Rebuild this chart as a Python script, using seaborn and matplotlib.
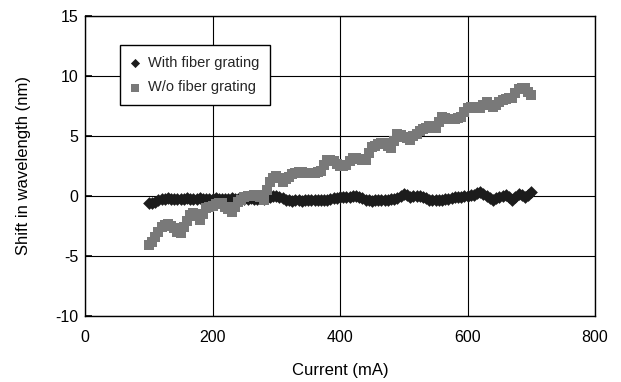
import numpy as np
import pandas as pd
import matplotlib
matplotlib.use("Agg")
import matplotlib.pyplot as plt
import seaborn as sns

# Drive current (mA), sampled every 5 mA from 100 to 700
current = np.arange(100, 701, 5)

# Wavelength shift (nm) with the fiber grating in place
shift_with = [
    -0.6, -0.6, -0.5, -0.3, -0.25, -0.25, -0.2, -0.25, -0.25, -0.25,
    -0.25, -0.25, -0.2, -0.25, -0.25, -0.25, -0.2, -0.25, -0.25, -0.25,
    -0.25, -0.2, -0.25, -0.25, -0.25, -0.25, -0.2, -0.25, -0.25, -0.2,
    -0.25, -0.25, -0.2, -0.25, -0.25, -0.2, -0.25, -0.2, -0.05, 0.0,
    0.0, -0.05, -0.2, -0.35, -0.35, -0.4, -0.35, -0.35, -0.4, -0.35,
    -0.35, -0.35, -0.3, -0.35, -0.35, -0.3, -0.3, -0.25, -0.2, -0.15,
    -0.05, -0.05, -0.1, -0.05, 0.0, 0.0, -0.05, -0.2, -0.35, -0.35,
    -0.4, -0.35, -0.35, -0.3, -0.35, -0.3, -0.25, -0.25, -0.2, 0.0,
    0.15, 0.05, -0.05, 0.0, 0.0, 0.0, -0.05, -0.2, -0.35, -0.35,
    -0.3, -0.3, -0.3, -0.25, -0.25, -0.2, -0.1, -0.1, -0.05, 0.0,
    0.0, 0.05, 0.1, 0.25, 0.35, 0.2, 0.0, -0.2, -0.35, -0.2,
    -0.1, 0.0, 0.1, -0.1, -0.3, -0.05, 0.2, 0.05, -0.1, 0.1,
    0.35,
]

# Wavelength shift (nm) without the fiber grating
shift_without = [
    -4.1, -3.8, -3.4, -3.0, -2.6, -2.4, -2.3, -2.5, -2.7, -3.0,
    -3.1, -2.6, -2.1, -1.6, -1.4, -1.7, -2.0, -1.5, -1.0, -0.9,
    -0.8, -0.7, -0.6, -0.6, -0.9, -1.1, -1.3, -0.9, -0.5, -0.3,
    -0.1, 0.0, 0.0, 0.1, 0.1, -0.1, -0.3, 0.5, 1.2, 1.5,
    1.7, 1.5, 1.2, 1.4, 1.6, 1.8, 1.9, 2.0, 2.0, 1.9,
    1.9, 1.9, 1.9, 2.0, 2.1, 2.6, 3.0, 3.0, 2.9, 2.7,
    2.5, 2.5, 2.6, 2.9, 3.2, 3.2, 3.1, 3.0, 3.0, 3.6,
    4.1, 4.2, 4.3, 4.4, 4.4, 4.2, 4.0, 4.6, 5.2, 5.1,
    4.9, 4.8, 4.7, 5.0, 5.2, 5.4, 5.6, 5.7, 5.8, 5.8,
    5.7, 6.2, 6.6, 6.5, 6.4, 6.4, 6.4, 6.5, 6.6, 7.0,
    7.3, 7.4, 7.4, 7.3, 7.3, 7.6, 7.8, 7.6, 7.4, 7.6,
    7.8, 8.0, 8.1, 8.2, 8.2, 8.6, 8.9, 9.0, 9.0, 8.7,
    8.4,
]

series_names = ["With fiber grating", "W/o fiber grating"]
x_ticks = [0, 200, 400, 600, 800]
y_ticks = [-10, -5, 0, 5, 10, 15]

df_with = pd.DataFrame({"current": current, "shift": shift_with})
df_without = pd.DataFrame({"current": current, "shift": shift_without})

sns.set_theme(style="white")
plt.rcParams["font.family"] = ["Liberation Sans", "DejaVu Sans"]
plt.rcParams["axes.unicode_minus"] = False

fig = plt.figure(figsize=(6.21, 3.82), dpi=100)
ax = fig.add_axes([0.1369, 0.1728, 0.8213, 0.7856])

sns.scatterplot(data=df_with, x="current", y="shift", ax=ax, marker="D",
                s=42, color="#1c1c1c", linewidth=0, label=series_names[0],
                zorder=3)
sns.scatterplot(data=df_without, x="current", y="shift", ax=ax, marker="s",
                s=56, color="#797979", linewidth=0, label=series_names[1],
                zorder=4)

ax.set_xlim(0, 800)
ax.set_ylim(-10, 15)
ax.set_xticks(x_ticks)
ax.set_yticks(y_ticks)
ax.grid(True, color="black", linewidth=0.8)
ax.set_axisbelow(True)
for sp in ax.spines.values():
    sp.set_color("black")
    sp.set_linewidth(1.0)

ax.tick_params(axis="y", direction="in", length=5, width=1.2, color="black",
               labelsize=11.5, labelcolor="black", pad=5, left=True)
ax.tick_params(axis="x", length=0, labelsize=11.5, labelcolor="black", pad=10)

ax.set_xlabel("Current (mA)", fontsize=12, color="black", labelpad=13)
ax.set_ylabel("Shift in wavelength (nm)", fontsize=12, color="black",
              labelpad=17)

leg = ax.legend(loc="upper left", bbox_to_anchor=(0.069, 0.903),
                fontsize=10.5, frameon=True, fancybox=False,
                edgecolor="black", framealpha=1, borderpad=0.72,
                handletextpad=0.6, labelspacing=0.75, markerscale=0.72,
                handlelength=0.6, borderaxespad=0)
leg.get_frame().set_linewidth(1.0)

fig.savefig("out.png", dpi=100)
